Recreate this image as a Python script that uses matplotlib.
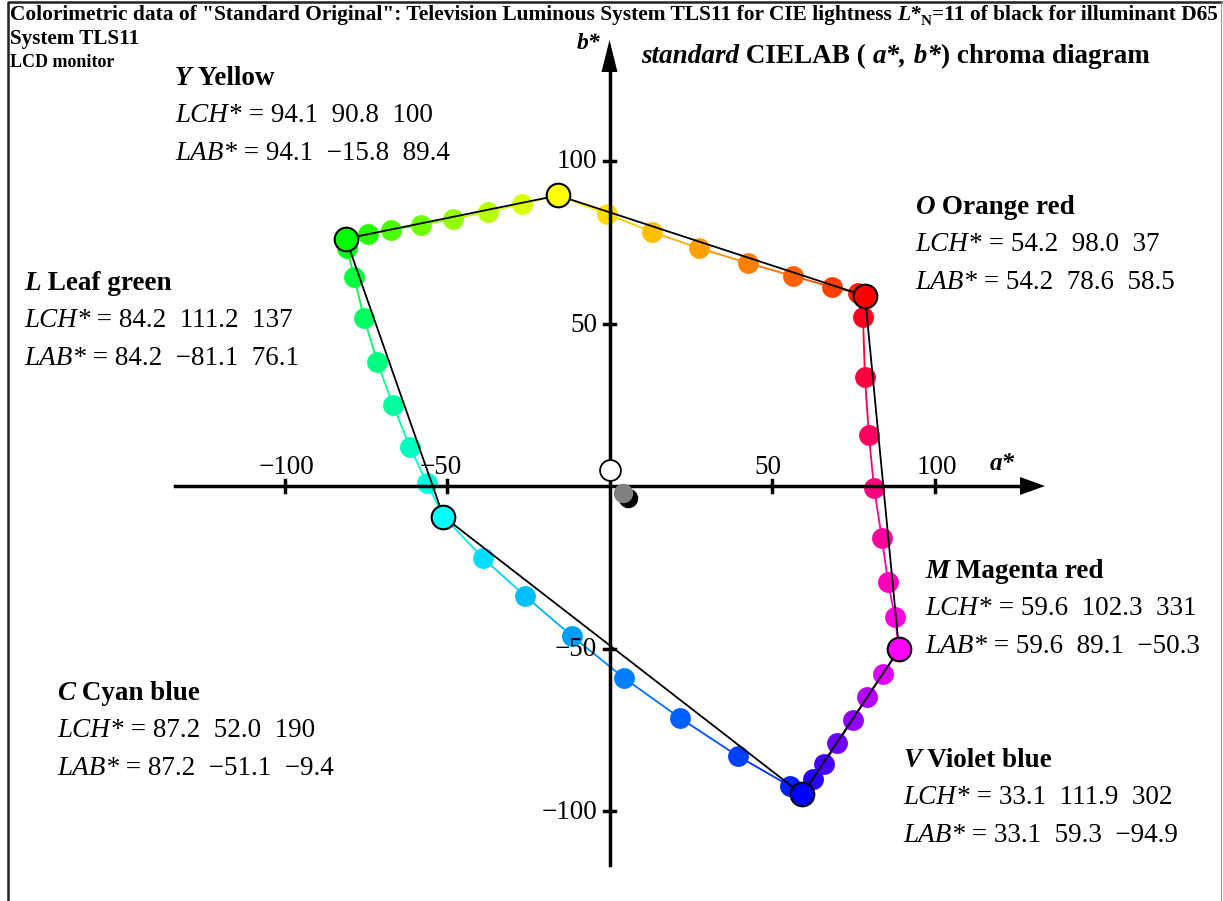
import numpy as np
import matplotlib
matplotlib.use("Agg")
import matplotlib.pyplot as plt
from matplotlib.lines import Line2D

# main colours (hexagon corners): O, Y, L, C, V, M
main_names = ["O", "Y", "L", "C", "V", "M"]
main_a = [78.6, -15.8, -81.1, -51.1, 59.3, 89.1]
main_b = [58.5, 89.4, 76.1, -9.4, -94.9, -50.3]
main_rgb = [(1, 0, 0), (1, 1, 0), (0, 1, 0), (0, 1, 1), (0, 0, 1), (1, 0, 1)]

# intermediate hue steps between corners
seg_OY_a = [76.5, 68.5, 56.5, 42.6, 27.5, 13.1, -0.8]
seg_OY_b = [59.4, 61.2, 64.6, 68.6, 73.2, 78.2, 83.7]
seg_YL_a = [-26.9, -37.4, -48.2, -57.9, -67.2, -74.3]
seg_YL_b = [86.8, 84.3, 82.2, 80.3, 78.8, 77.5]
seg_LC_a = [-80.8, -78.6, -75.5, -71.5, -66.6, -61.4, -56.2]
seg_LC_b = [73.2, 64.3, 51.7, 38.2, 24.9, 12.0, 0.9]
seg_CV_a = [-38.9, -26.0, -11.5, 4.5, 21.7, 39.5, 55.5]
seg_CV_b = [-22.2, -33.8, -46.2, -59.1, -71.4, -83.1, -92.3]
seg_VM_a = [62.6, 66.0, 70.0, 74.9, 79.2, 84.2]
seg_VM_b = [-90.2, -85.5, -79.1, -72.0, -64.9, -57.8]
seg_MO_a = [87.8, 85.7, 83.8, 81.4, 79.8, 78.6, 78.0]
seg_MO_b = [-40.3, -29.5, -16.0, -0.6, 15.7, 33.5, 52.0]
segments = [(0, 1, seg_OY_a, seg_OY_b), (1, 2, seg_YL_a, seg_YL_b),
            (2, 3, seg_LC_a, seg_LC_b), (3, 4, seg_CV_a, seg_CV_b),
            (4, 5, seg_VM_a, seg_VM_b), (5, 0, seg_MO_a, seg_MO_b)]

# grey points near the origin
white_ab = (0.0, 4.9)
grey_ab = (4.2, -2.2)
black_ab = (5.7, -3.7)

ticks = [-100, -50, 50, 100]

labels = {
    "Y": ("Yellow", "94.1  90.8  100", "94.1  \u221215.8  89.4"),
    "O": ("Orange red", "54.2  98.0  37", "54.2  78.6  58.5"),
    "L": ("Leaf green", "84.2  111.2  137", "84.2  \u221281.1  76.1"),
    "M": ("Magenta red", "59.6  102.3  331", "59.6  89.1  \u221250.3"),
    "C": ("Cyan blue", "87.2  52.0  190", "87.2  \u221251.1  \u22129.4"),
    "V": ("Violet blue", "33.1  111.9  302", "33.1  59.3  \u221294.9"),
}
label_pos = {"Y": (175, 85), "O": (915, 214), "L": (24, 290),
             "M": (925, 578), "C": (57, 700), "V": (903, 767)}

W, H = 1223, 901
X0, Y0, S = 609.5, 486.0, 3.25
FONT = "Liberation Serif"
FS = 19.5


def px2a(x):
    return (x - X0) / S


def py2b(y):
    return (Y0 - y) / S


fig = plt.figure(figsize=(W / 100, H / 100), dpi=100)
ax = fig.add_axes([0, 0, 1, 1])
ax.set_xlim(px2a(0), px2a(W))
ax.set_ylim(py2b(H), py2b(0))
ax.axis("off")

# coloured hue lines and dots
for i0, i1, sa, sb in segments:
    pa = [main_a[i0]] + sa + [main_a[i1]]
    pb = [main_b[i0]] + sb + [main_b[i1]]
    c0, c1 = np.array(main_rgb[i0]), np.array(main_rgb[i1])
    n = len(pa) - 1
    cols = [tuple(c0 + (c1 - c0) * k / n) for k in range(n + 1)]
    for k in range(n):
        cm = tuple((np.array(cols[k]) + np.array(cols[k + 1])) / 2)
        ax.plot(pa[k:k + 2], pb[k:k + 2], color=cm, lw=1.3, zorder=1)
    for k in range(1, n):
        ax.plot(pa[k], pb[k], "o", ms=15, color=cols[k], mec="none", zorder=2)

# axes with arrow heads
ax.plot([px2a(175), px2a(1025)], [0, 0], color="k", lw=2.5, zorder=3)
ax.plot([0, 0], [py2b(865), py2b(70)], color="k", lw=2.5, zorder=3)
ax.fill([px2a(1045), px2a(1020), px2a(1020)], [0, 9 / S, -9 / S],
        color="k", lw=0, zorder=3)
ax.fill([0, -8 / S, 8 / S], [py2b(40), py2b(72), py2b(72)],
        color="k", lw=0, zorder=3)
for t in ticks:
    ax.plot([t, t], [-1.8, 1.8], color="k", lw=2.5, zorder=3)
    ax.plot([-1.8, 1.8], [t, t], color="k", lw=2.5, zorder=3)

# hexagon of the six main colours
ax.plot(main_a + [main_a[0]], main_b + [main_b[0]], color="k", lw=1.3, zorder=4)
for a, b, c in zip(main_a, main_b, main_rgb):
    ax.plot(a, b, "o", ms=17, color=c, mec="k", mew=1.5, zorder=5)

ax.plot(*black_ab, "o", ms=14, color="k", mec="none", zorder=5)
ax.plot(*grey_ab, "o", ms=14, color="#808080", mec="none", zorder=5)
ax.plot(*white_ab, "o", ms=15, color="white", mec="k", mew=1.3, zorder=5)


def ftext(x, y, s, **kw):
    kw.setdefault("family", FONT)
    return fig.text(x / W, 1 - y / H, s, **kw)


renderer = fig.canvas.get_renderer()


def rich(x, y, parts, size):
    for s, style, weight in parts:
        t = ftext(x, y, s, fontsize=size, style=style, weight=weight,
                  va="baseline", ha="left")
        x += t.get_window_extent(renderer).width
    return x


# tick labels
for v, x in zip(ticks, [286, 441, 768, 937]):
    ftext(x, 474, str(v).replace("-", "\u2212"), fontsize=FS, ha="center", va="baseline")
for v, y in zip(ticks, [819, 656, 332, 168]):
    ftext(597, y, str(v).replace("-", "\u2212"), fontsize=FS, ha="right", va="baseline")
ftext(990, 470, "a*", fontsize=18, style="italic", weight="bold", va="baseline")
ftext(577, 49, "b*", fontsize=17, style="italic", weight="bold", va="baseline")

# titles
x = rich(10, 20, [("Colorimetric data of \"Standard Original\": Television Luminous "
                   "System TLS11 for CIE lightness ", "normal", "bold"),
                  ("L*", "italic", "bold")], 15.4)
ftext(x, 25, "N", fontsize=11, weight="bold", va="baseline")
x += 11
rich(x, 20, [("=11 of black for illuminant D65", "normal", "bold")], 15.4)
ftext(10, 44, "System TLS11", fontsize=15.2, weight="bold", va="baseline")
ftext(10, 67, "LCD monitor", fontsize=13, weight="bold", va="baseline")
rich(641, 63, [("standard", "italic", "bold"), (" CIELAB ( ", "normal", "bold"),
               ("a*,", "italic", "bold"), (" b*", "italic", "bold"),
               (") chroma diagram", "normal", "bold")], 19.5)

# corner annotations
for key, (name, lch, lab) in labels.items():
    x, y = label_pos[key]
    rich(x, y, [(key, "italic", "bold"), (" " + name, "normal", "bold")], FS)
    rich(x, y + 37, [("LCH*", "italic", "normal"), (" = " + lch, "normal", "normal")], FS)
    rich(x, y + 75, [("LAB*", "italic", "normal"), (" = " + lab, "normal", "normal")], FS)

# frame
fig.add_artist(Line2D([8 / W, 8 / W, 1221 / W], [0, 1 - 2 / H, 1 - 2 / H],
                      transform=fig.transFigure, color="#222222", lw=1.8))
fig.add_artist(Line2D([1221 / W, 1221 / W], [0, 1 - 2 / H],
                      transform=fig.transFigure, color="#999999", lw=0.8))

fig.savefig("out.png", dpi=100)
